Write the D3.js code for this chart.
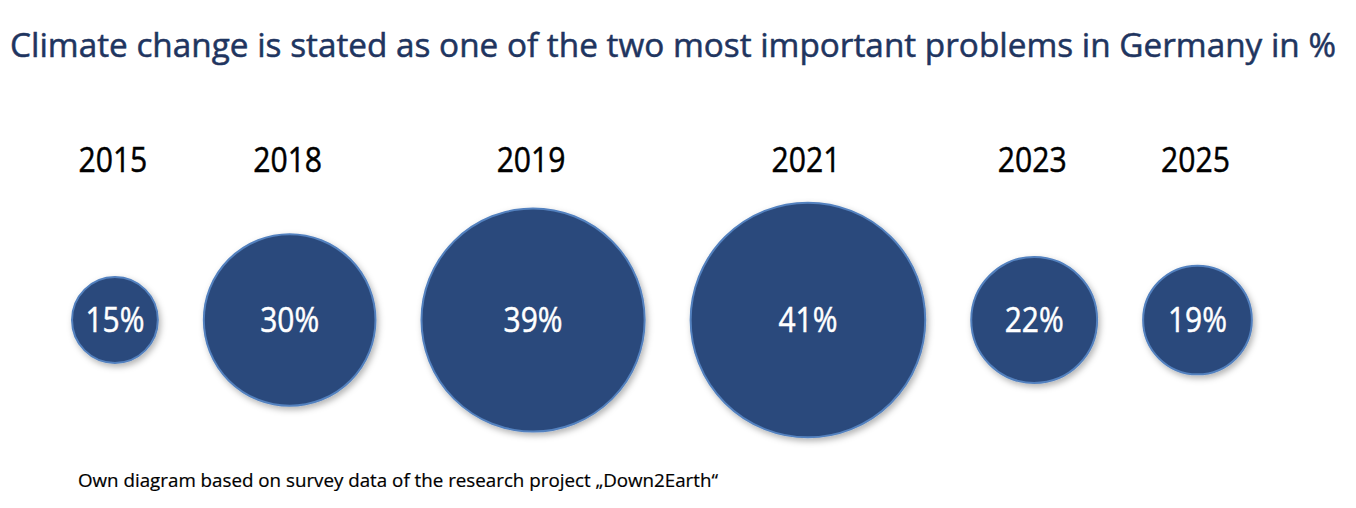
<!DOCTYPE html>
<html>
<head>
<meta charset="utf-8">
<script src="https://cdn.jsdelivr.net/npm/d3@7"></script>
<style>
  html, body { margin: 0; padding: 0; background: #ffffff; }
  svg { display: block; }
</style>
</head>
<body>
<svg id="chart" width="1356" height="508"></svg>
<script>
// ---- data ----
const years = ["2015", "2018", "2019", "2021", "2023", "2025"];
const shares = [15, 30, 39, 41, 22, 19];
const valueLabels = ["15%", "30%", "39%", "41%", "22%", "19%"];
const titleText = "Climate change is stated as one of the two most important problems in Germany in %";
const sourceText = "Own diagram based on survey data of the research project \u201eDown2Earth\u201c";

// ---- layout ----
const W = 1356, H = 508;
const svg = d3.select("#chart");
const FONT = "'Open Sans', 'Noto Sans', sans-serif";

const r = d3.scaleLinear().domain([0, 41]).range([0, 117.3]);
const gap = 46, startX = 72, cy = 320;

const nodes = [];
let edge = startX;
shares.forEach((v, i) => {
  const rad = r(v);
  nodes.push({ year: years[i], value: v, label: valueLabels[i], r: rad, cx: edge + rad });
  edge += 2 * rad + gap;
});

const defs = svg.append("defs");
const f = defs.append("filter").attr("id", "shadow").attr("x", "-20%").attr("y", "-20%").attr("width", "140%").attr("height", "140%");
f.append("feDropShadow").attr("dx", 2).attr("dy", 3).attr("stdDeviation", 3)
  .attr("flood-color", "#000").attr("flood-opacity", 0.3);

// title
svg.append("text")
  .attr("x", 10).attr("y", 57)
  .attr("font-family", FONT).attr("font-size", 32)
  .attr("fill", "#1f3560")
  .attr("stroke", "#1f3560").attr("stroke-width", 0.5)
  .attr("textLength", 1326).attr("lengthAdjust", "spacingAndGlyphs")
  .text(titleText);

// circles
const g = svg.append("g");
g.selectAll("circle").data(nodes).join("circle")
  .attr("cx", d => d.cx).attr("cy", cy).attr("r", d => d.r)
  .attr("fill", "#2c4a7b")
  .attr("stroke", "#5381bf").attr("stroke-width", 2)
  .attr("filter", "url(#shadow)");

// year labels
g.selectAll("text.year").data(nodes).join("text")
  .attr("class", "year")
  .attr("x", d => d.cx - 2).attr("y", 172)
  .attr("text-anchor", "middle")
  .attr("font-family", FONT).attr("font-size", 35)
  .attr("fill", "#000")
  .attr("stroke", "#000").attr("stroke-width", 0.5)
  .text(d => d.year)
  .each(function () {
    const L = this.getComputedTextLength();
    d3.select(this).attr("textLength", L * 0.86).attr("lengthAdjust", "spacingAndGlyphs");
  });

// value labels
g.selectAll("text.val").data(nodes).join("text")
  .attr("class", "val")
  .attr("x", d => d.cx).attr("y", cy + 12)
  .attr("text-anchor", "middle")
  .attr("font-family", FONT).attr("font-size", 34)
  .attr("fill", "#ffffff")
  .attr("stroke", "#ffffff").attr("stroke-width", 0.5)
  .text(d => d.label)
  .each(function () {
    const L = this.getComputedTextLength();
    d3.select(this).attr("textLength", L * 0.88).attr("lengthAdjust", "spacingAndGlyphs");
  });

// source
svg.append("text")
  .attr("x", 78).attr("y", 487)
  .attr("font-family", FONT).attr("font-size", 18)
  .attr("fill", "#000")
  .attr("stroke", "#000").attr("stroke-width", 0.2)
  .attr("textLength", 640).attr("lengthAdjust", "spacingAndGlyphs")
  .text(sourceText);
</script>
</body>
</html>
